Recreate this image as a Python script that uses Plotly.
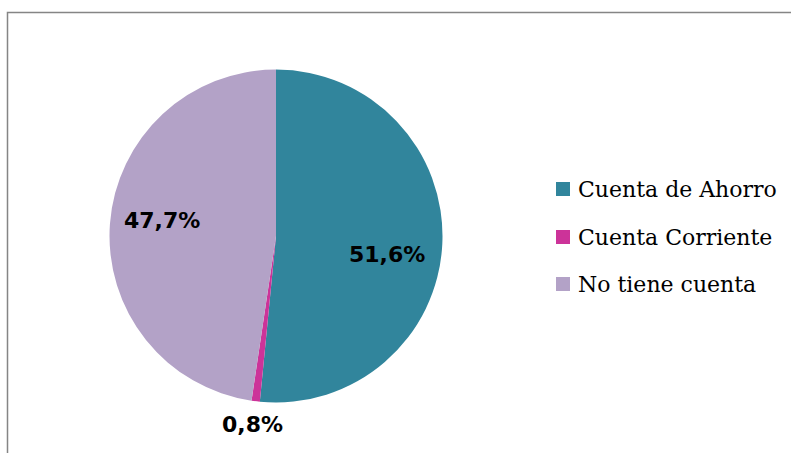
import plotly.graph_objects as go

categories = ["Cuenta de Ahorro", "Cuenta Corriente", "No tiene cuenta"]
values = [51.6, 0.8, 47.7]
value_labels = ["51,6%", "0,8%", "47,7%"]
colors = ["#31859C", "#CC3399", "#B3A2C7"]

W, H = 791, 453

def px(x):
    return x / W

def py(y):
    return 1 - y / H

fig = go.Figure(go.Pie(
    labels=categories,
    values=values,
    sort=False,
    direction="clockwise",
    rotation=0,
    marker=dict(colors=colors, line=dict(color="white", width=0)),
    textinfo="none",
    hoverinfo="label+percent",
    showlegend=False,
    domain=dict(x=[px(109.5), px(442.5)], y=[py(402.5), py(69.5)]),
))

# data labels
label_pos = [(387, 254), (252, 424), (162, 220)]
annotations = []
for txt, (x, y) in zip(value_labels, label_pos):
    annotations.append(dict(
        x=px(x), y=py(y), xref="paper", yref="paper", text=txt, showarrow=False,
        font=dict(family="DejaVu Sans", size=22, color="#000000", weight="bold"),
        xanchor="center", yanchor="middle",
    ))

# frame and manual legend
shapes = [dict(type="rect", xref="paper", yref="paper",
               x0=px(7.5), y0=-0.2, x1=1.2, y1=py(12.5),
               line=dict(color="#858585", width=1.5), fillcolor="rgba(0,0,0,0)")]
rows_y = [189, 237, 284]
for cat, col, ry in zip(categories, colors, rows_y):
    shapes.append(dict(type="rect", xref="paper", yref="paper",
                       x0=px(556), x1=px(570), y0=py(ry + 7), y1=py(ry - 7),
                       line=dict(width=0), fillcolor=col))
    annotations.append(dict(
        x=px(576), y=py(ry), xref="paper", yref="paper", text=cat, showarrow=False,
        font=dict(family="DejaVu Serif", size=22, color="#000000"),
        xanchor="left", yanchor="middle",
    ))

fig.update_layout(
    width=W, height=H,
    margin=dict(l=0, r=0, t=0, b=0),
    paper_bgcolor="white", plot_bgcolor="white",
    shapes=shapes, annotations=annotations,
)

fig.write_html(
    "out.html",
    config={"displayModeBar": False},
    post_script="document.body.style.margin='0';document.body.style.overflow='hidden';",
)
